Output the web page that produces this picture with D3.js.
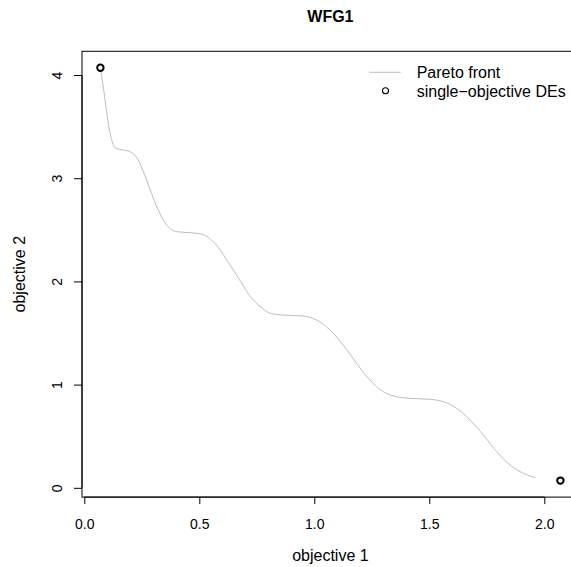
<!DOCTYPE html>
<html>
<head>
<meta charset="utf-8">
<script src="https://cdn.jsdelivr.net/npm/d3@7"></script>
<style>
  html, body { margin: 0; padding: 0; background: #fff; overflow: hidden; }
  svg { display: block; font-family: "Liberation Sans", Arial, Helvetica, sans-serif; }
</style>
</head>
<body>
<svg id="chart" width="571" height="567"></svg>
<script>
// ---- data ----
const title = "WFG1";
const xLabel = "objective 1";
const yLabel = "objective 2";
const legendLabels = ["Pareto front", "single\u2212objective DEs"];

const paretoX = [0.071, 0.084, 0.094, 0.112, 0.138, 0.170, 0.199, 0.235, 0.271, 0.315,
                 0.358, 0.402, 0.460, 0.510, 0.561, 0.648, 0.735, 0.773, 0.808, 0.865,
                 0.952, 1.010, 1.068, 1.126, 1.184, 1.242, 1.300, 1.358, 1.416, 1.503,
                 1.561, 1.619, 1.677, 1.735, 1.793, 1.851, 1.909, 1.960];
const paretoY = [4.060, 3.860, 3.693, 3.435, 3.290, 3.273, 3.257, 3.176, 2.983, 2.724,
                 2.547, 2.482, 2.472, 2.459, 2.385, 2.110, 1.819, 1.742, 1.691, 1.674,
                 1.665, 1.626, 1.529, 1.384, 1.206, 1.044, 0.931, 0.883, 0.867, 0.858,
                 0.835, 0.770, 0.657, 0.512, 0.350, 0.221, 0.141, 0.098];

const deX = [0.07, 2.07];
const deY = [4.07, 0.07];

const xTicks = [0, 0.5, 1.0, 1.5, 2.0];
const xTickLabels = ["0.0", "0.5", "1.0", "1.5", "2.0"];
const yTicks = [0, 1, 2, 3, 4];
const yTickLabels = ["0", "1", "2", "3", "4"];

// ---- layout ----
const svg = d3.select("#chart");
const plot = { left: 82, right: 578.8, top: 51.3, bottom: 497.1 };

// R-style 4% padding of the data range
const allX = deX.concat(paretoX), allY = deY.concat(paretoY);
const xr = d3.extent(allX), yr = d3.extent(allY);
const xPad = (xr[1] - xr[0]) * 0.04, yPad = (yr[1] - yr[0]) * 0.04;

const x = d3.scaleLinear().domain([xr[0] - xPad, xr[1] + xPad]).range([plot.left, plot.right]);
const y = d3.scaleLinear().domain([yr[0] - yPad, yr[1] + yPad]).range([plot.bottom, plot.top]);

// Pareto front line
const pts = paretoX.map((d, i) => [d, paretoY[i]]);
svg.append("path")
  .datum(pts)
  .attr("fill", "none")
  .attr("stroke", "#bebebe")
  .attr("stroke-width", 1)
  .attr("d", d3.line().x(d => x(d[0])).y(d => y(d[1])).curve(d3.curveMonotoneX));

// single-objective DE points
svg.append("g").selectAll("circle")
  .data(deX.map((d, i) => [d, deY[i]]))
  .join("circle")
  .attr("cx", d => x(d[0]))
  .attr("cy", d => y(d[1]))
  .attr("r", 3.2)
  .attr("fill", "none")
  .attr("stroke", "#000")
  .attr("stroke-width", 2);

// box
svg.append("rect")
  .attr("x", plot.left).attr("y", plot.top)
  .attr("width", plot.right - plot.left).attr("height", plot.bottom - plot.top)
  .attr("fill", "none").attr("stroke", "#000").attr("stroke-width", 1);

// x axis
const xAxis = d3.axisBottom(x).tickValues(xTicks)
  .tickFormat((d, i) => xTickLabels[i]).tickSizeOuter(0).tickSize(7).tickPadding(0);
const gx = svg.append("g").attr("transform", `translate(0,${plot.bottom})`).call(xAxis);
gx.select(".domain").attr("d", `M${x(xTicks[0])},0H${x(xTicks[xTicks.length - 1])}`).attr("stroke", "#000");
gx.selectAll(".tick line").attr("stroke", "#000");
gx.selectAll(".tick text")
  .attr("font-size", 14).attr("font-family", "Liberation Sans, Arial, sans-serif")
  .attr("fill", "#000").attr("dy", null).attr("y", 32.2);

// y axis
const yAxis = d3.axisLeft(y).tickValues(yTicks)
  .tickFormat((d, i) => yTickLabels[i]).tickSizeOuter(0).tickSize(8).tickPadding(0);
const gy = svg.append("g").attr("transform", `translate(${plot.left},0)`).call(yAxis);
gy.select(".domain").attr("d", `M0,${y(yTicks[0])}V${y(yTicks[yTicks.length - 1])}`).attr("stroke", "#000");
gy.selectAll(".tick line").attr("stroke", "#000");
gy.selectAll(".tick text")
  .attr("font-size", 14).attr("font-family", "Liberation Sans, Arial, sans-serif")
  .attr("fill", "#000")
  .attr("x", null).attr("dy", null)
  .attr("text-anchor", "middle")
  .attr("transform", "translate(-20,0) rotate(-90)");

// title
svg.append("text")
  .attr("x", (plot.left + plot.right) / 2).attr("y", 22)
  .attr("text-anchor", "middle").attr("font-size", 16).attr("font-weight", "bold")
  .text(title);

// axis labels
svg.append("text")
  .attr("x", (plot.left + plot.right) / 2).attr("y", 561)
  .attr("text-anchor", "middle").attr("font-size", 16)
  .text(xLabel);
svg.append("text")
  .attr("transform", `translate(25,${(plot.top + plot.bottom) / 2}) rotate(-90)`)
  .attr("text-anchor", "middle").attr("font-size", 16)
  .text(yLabel);

// legend
const lg = svg.append("g");
lg.append("line")
  .attr("x1", 369.3).attr("x2", 400.7).attr("y1", 72.3).attr("y2", 72.3)
  .attr("stroke", "#bebebe").attr("stroke-width", 1);
lg.append("circle")
  .attr("cx", 385.5).attr("cy", 90.7).attr("r", 3)
  .attr("fill", "none").attr("stroke", "#000").attr("stroke-width", 1.1);
lg.selectAll("text.leg")
  .data(legendLabels)
  .join("text")
  .attr("class", "leg")
  .attr("x", 416.7)
  .attr("y", (d, i) => 78.3 + i * 18.4)
  .attr("font-size", 16)
  .text(d => d);
</script>
</body>
</html>
